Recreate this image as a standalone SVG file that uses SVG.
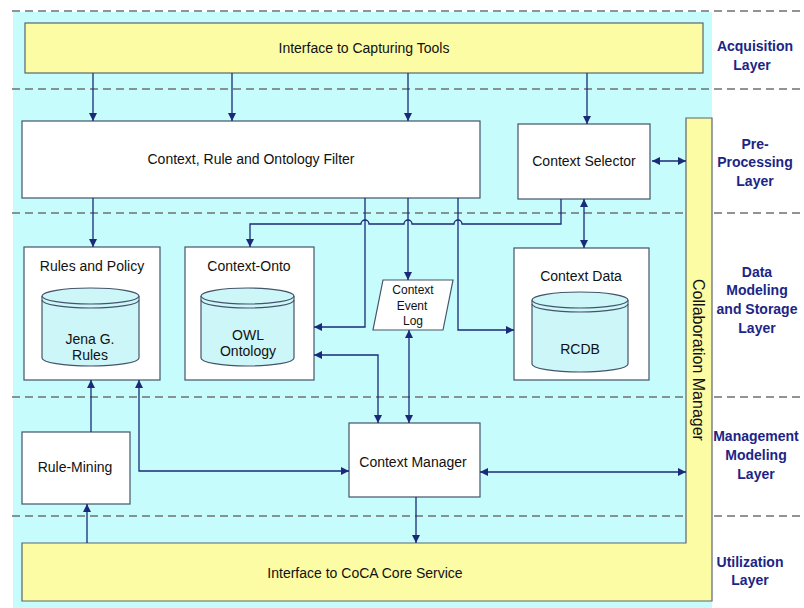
<svg xmlns="http://www.w3.org/2000/svg" width="804" height="608" viewBox="0 0 804 608">
  <style>
    .txt { font-family: "Liberation Sans", Arial, sans-serif; font-size: 14px; fill: #111; text-anchor: middle; }
    .sm { font-size: 12px; }
    .layer { font-family: "Liberation Sans", Arial, sans-serif; font-size: 14px; font-weight: bold; fill: #1c2585; text-anchor: middle; }
    .box { fill: #ffffff; stroke: #44546a; stroke-width: 1.2; }
    .bar { fill: #fcfca4; stroke: #5a6470; stroke-width: 1.2; }
    .cyl { fill: #cdf6f8; stroke: #44546a; stroke-width: 1.2; }
    .dash { stroke: #707070; stroke-width: 1.3; stroke-dasharray: 8 5; fill: none; }
    .conn { stroke: #1b2a78; stroke-width: 1.3; fill: none; }
  </style>
  <defs>
    <marker id="arrow" viewBox="0 0 8 8" refX="8" refY="4" markerWidth="8" markerHeight="8" markerUnits="userSpaceOnUse" orient="auto-start-reverse">
      <path d="M0,0 L8,4 L0,8 z" fill="#1b2a78"/>
    </marker>
  </defs>

  <!-- background panel -->
  <rect x="13" y="12" width="699" height="596" fill="#c6fcfc"/>

  <!-- layer separators -->
  <g id="separators">
    <line class="dash" x1="12" y1="11" x2="802" y2="11"/>
    <line class="dash" x1="12" y1="89" x2="802" y2="89"/>
    <line class="dash" x1="12" y1="213" x2="802" y2="213"/>
    <line class="dash" x1="12" y1="397" x2="802" y2="397"/>
    <line class="dash" x1="12" y1="516" x2="802" y2="516"/>
  </g>

  <!-- layer labels -->
  <g id="layer-labels">
    <text class="layer" x="755" y="51">Acquisition</text>
    <text class="layer" x="752" y="70">Layer</text>
    <text class="layer" x="755" y="149">Pre-</text>
    <text class="layer" x="755" y="167">Processing</text>
    <text class="layer" x="755" y="186">Layer</text>
    <text class="layer" x="757" y="277">Data</text>
    <text class="layer" x="757" y="295">Modeling</text>
    <text class="layer" x="757" y="314">and Storage</text>
    <text class="layer" x="757" y="333">Layer</text>
    <text class="layer" x="756" y="441">Management</text>
    <text class="layer" x="756" y="460">Modeling</text>
    <text class="layer" x="756" y="479">Layer</text>
    <text class="layer" x="750" y="567">Utilization</text>
    <text class="layer" x="750" y="585">Layer</text>
  </g>

  <g id="capturing-interface">
    <rect class="bar" x="25" y="23" width="678" height="50"/>
    <text class="txt" x="364" y="53">Interface to Capturing Tools</text>
  </g>

  <!-- collaboration manager and core service interface form an L -->
  <g id="collaboration-manager">
    <path class="bar" d="M686,118 H712 V601 H22 V543 H686 Z"/>
    <text class="txt" font-size="16" transform="translate(693,360) rotate(90)" style="font-size:16px">Collaboration Manager</text>
  </g>
  <g id="core-service-interface">
    <text class="txt" x="365" y="578">Interface to CoCA Core Service</text>
  </g>

  <g id="filter">
    <rect class="box" x="22" y="121" width="458" height="77"/>
    <text class="txt" x="251" y="164">Context, Rule and Ontology Filter</text>
  </g>

  <g id="context-selector">
    <rect class="box" x="518" y="124" width="132" height="75"/>
    <text class="txt" x="584" y="166">Context Selector</text>
  </g>

  <g id="rules-policy">
    <rect class="box" x="24" y="247" width="136" height="133"/>
    <text class="txt" x="92" y="271">Rules and Policy</text>
    <path class="cyl" d="M42,296 V358 A48.5,8 0 0 0 139,358 V296"/>
    <ellipse class="cyl" cx="90.5" cy="296" rx="48.5" ry="8"/>
    <path class="cyl" fill="none" d="M42,300 A48.5,8 0 0 0 139,300" style="fill:none"/>
    <text class="txt" x="90" y="344">Jena G.</text>
    <text class="txt" x="90" y="360">Rules</text>
  </g>

  <g id="context-onto">
    <rect class="box" x="185" y="247" width="129" height="133"/>
    <text class="txt" x="249" y="271">Context-Onto</text>
    <path class="cyl" d="M201,296 V358 A46.5,8 0 0 0 294,358 V296"/>
    <ellipse class="cyl" cx="247.5" cy="296" rx="46.5" ry="8"/>
    <path class="cyl" d="M201,300 A46.5,8 0 0 0 294,300" style="fill:none"/>
    <text class="txt" x="248" y="340">OWL</text>
    <text class="txt" x="248" y="356">Ontology</text>
  </g>

  <g id="context-event-log">
    <path class="box" d="M383,280 H453 L443,330 H373 Z"/>
    <text class="txt sm" x="413" y="294">Context</text>
    <text class="txt sm" x="412" y="310">Event</text>
    <text class="txt sm" x="413" y="325">Log</text>
  </g>

  <g id="context-data">
    <rect class="box" x="514" y="248" width="135" height="132"/>
    <text class="txt" x="581" y="281">Context Data</text>
    <path class="cyl" d="M532,300 V364 A48,8 0 0 0 628,364 V300"/>
    <ellipse class="cyl" cx="580" cy="300" rx="48" ry="8"/>
    <path class="cyl" d="M532,304 A48,8 0 0 0 628,304" style="fill:none"/>
    <text class="txt" x="580" y="354">RCDB</text>
  </g>

  <g id="rule-mining">
    <rect class="box" x="22" y="432" width="108" height="72"/>
    <text class="txt" x="75" y="472">Rule-Mining</text>
  </g>

  <g id="context-manager">
    <rect class="box" x="349" y="423" width="131" height="74"/>
    <text class="txt" x="413" y="467">Context Manager</text>
  </g>

  <g id="connectors">
    <!-- capturing interface to pre-processing -->
    <line class="conn" x1="93" y1="73" x2="93" y2="121" marker-end="url(#arrow)"/>
    <line class="conn" x1="232" y1="73" x2="232" y2="121" marker-end="url(#arrow)"/>
    <line class="conn" x1="408" y1="73" x2="408" y2="121" marker-end="url(#arrow)"/>
    <line class="conn" x1="587" y1="73" x2="587" y2="124" marker-end="url(#arrow)"/>
    <!-- selector <-> collaboration manager -->
    <line class="conn" x1="652" y1="161" x2="686" y2="161" marker-start="url(#arrow)" marker-end="url(#arrow)"/>
    <!-- filter outputs -->
    <line class="conn" x1="93" y1="198" x2="93" y2="247" marker-end="url(#arrow)"/>
    <path class="conn" d="M365,198 V327 H314" marker-end="url(#arrow)"/>
    <line class="conn" x1="408" y1="198" x2="408" y2="280" marker-end="url(#arrow)"/>
    <path class="conn" d="M458,198 V330 H514" marker-end="url(#arrow)"/>
    <!-- selector to ontology, hopping over the filter lines -->
    <path class="conn" d="M561,199 V224 H462 a4,4 0 0 0 -8,0 H412 a4,4 0 0 0 -8,0 H369 a4,4 0 0 0 -8,0 H250 V247" marker-end="url(#arrow)"/>
    <!-- selector <-> context data -->
    <line class="conn" x1="584" y1="199" x2="584" y2="248" marker-start="url(#arrow)" marker-end="url(#arrow)"/>
    <!-- ontology <-> context manager -->
    <path class="conn" d="M314,355 H378 V423" marker-start="url(#arrow)" marker-end="url(#arrow)"/>
    <!-- event log <-> context manager -->
    <line class="conn" x1="409" y1="330" x2="409" y2="423" marker-start="url(#arrow)" marker-end="url(#arrow)"/>
    <!-- rules <-> context manager -->
    <path class="conn" d="M139,380 V471 H349" marker-start="url(#arrow)" marker-end="url(#arrow)"/>
    <!-- rule mining to rules -->
    <line class="conn" x1="91" y1="432" x2="91" y2="380" marker-end="url(#arrow)"/>
    <!-- core service to rule mining -->
    <line class="conn" x1="87" y1="543" x2="87" y2="504" marker-end="url(#arrow)"/>
    <!-- context manager <-> collaboration manager -->
    <line class="conn" x1="480" y1="472" x2="686" y2="472" marker-start="url(#arrow)" marker-end="url(#arrow)"/>
    <!-- context manager to core service -->
    <line class="conn" x1="416" y1="497" x2="416" y2="543" marker-end="url(#arrow)"/>
  </g>
</svg>
